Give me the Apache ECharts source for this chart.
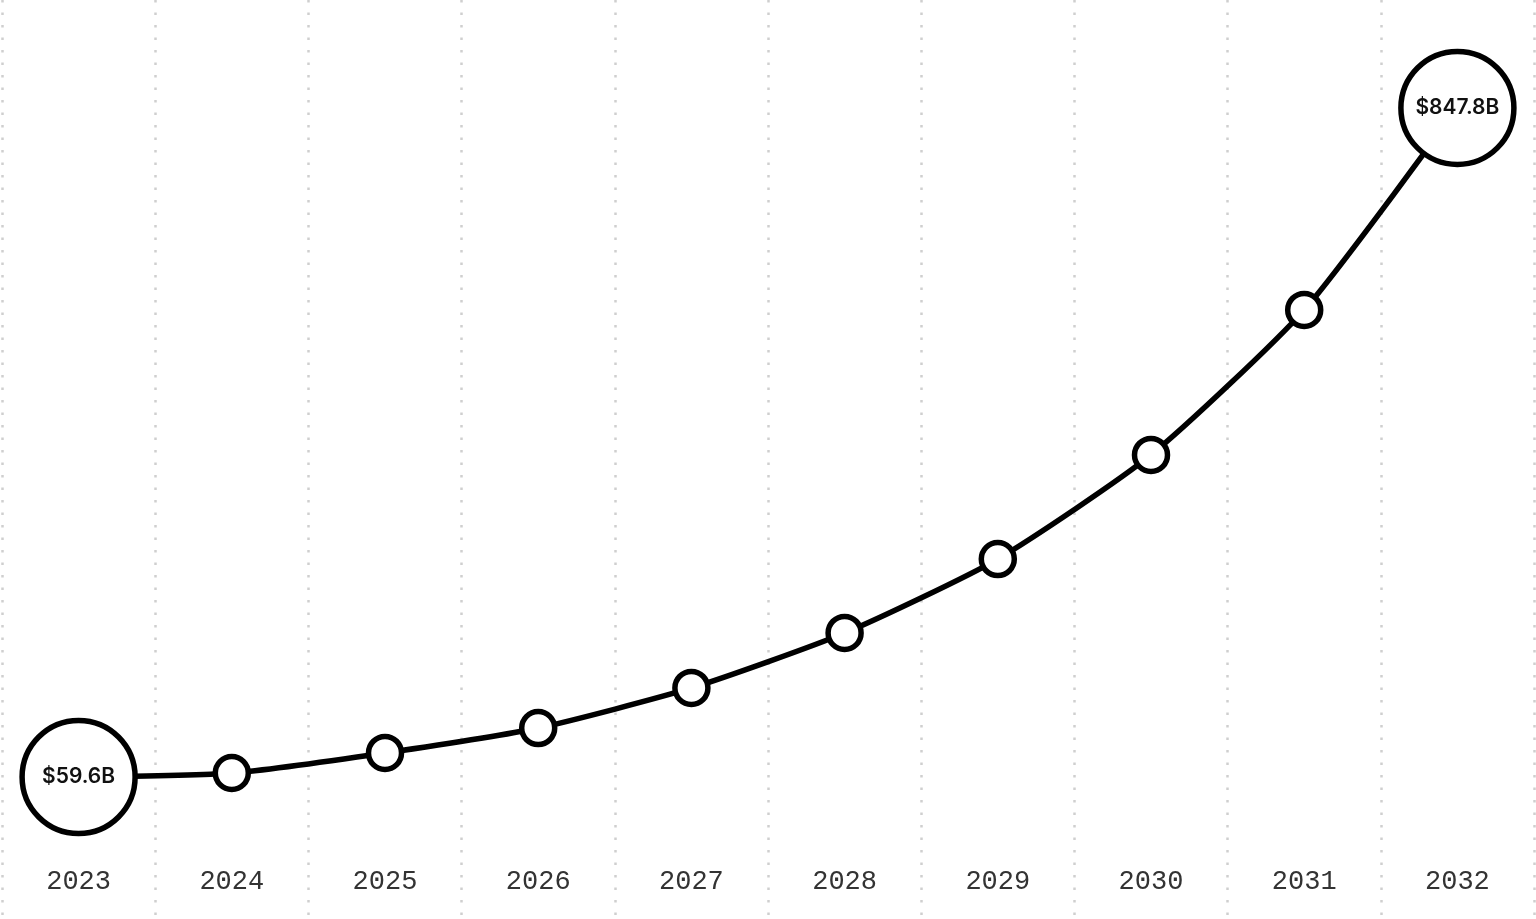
<!DOCTYPE html>
<html>
<head>
<meta charset="utf-8">
<script src="https://cdn.jsdelivr.net/npm/echarts@6/dist/echarts.min.js"></script>
<style>
html,body{margin:0;padding:0;background:#fff;}
#chart{width:1536px;height:919px;}
</style>
</head>
<body>
<div id="chart"></div>
<script>
const years = ['2023','2024','2025','2026','2027','2028','2029','2030','2031','2032'];
const marketSize = [59.6, 64.3, 87.9, 117.3, 164.5, 229.3, 316.4, 439.0, 609.8, 847.8];
const highlighted = [0, 9];

const chart = echarts.init(document.getElementById('chart'));
chart.setOption({
  backgroundColor: '#ffffff',
  animation: false,
  grid: { left: 2, right: 2, top: 0, bottom: 0 },
  xAxis: {
    type: 'category',
    data: years,
    boundaryGap: true,
    axisLine: { show: false },
    axisTick: { show: false },
    axisLabel: {
      inside: true,
      margin: 24,
      fontFamily: 'Liberation Mono, DejaVu Sans Mono, monospace',
      fontSize: 27,
      color: '#333'
    },
    splitLine: {
      show: true,
      lineStyle: { color: '#cfcfcf', width: 2.5, type: [2.5, 10] }
    }
  },
  yAxis: {
    type: 'value',
    min: -107.7,
    max: 975,
    show: false,
    splitLine: { show: false }
  },
  series: [{
    type: 'line',
    data: marketSize,
    smooth: 0.2,
    symbol: 'circle',
    symbolSize: function (v, p) { return highlighted.indexOf(p.dataIndex) >= 0 ? 113 : 33; },
    showAllSymbol: true,
    lineStyle: { color: '#000', width: 5.5 },
    itemStyle: { color: '#fff', borderColor: '#000', borderWidth: 5.5 },
    label: {
      show: true,
      position: 'inside',
      fontFamily: 'Inter, Roboto, sans-serif',
      fontWeight: 600,
      fontSize: 21,
      color: '#111',
      formatter: function (p) {
        return highlighted.indexOf(p.dataIndex) >= 0 ? '$' + p.value + 'B' : '';
      }
    },
    z: 3
  }]
});
</script>
</body>
</html>
